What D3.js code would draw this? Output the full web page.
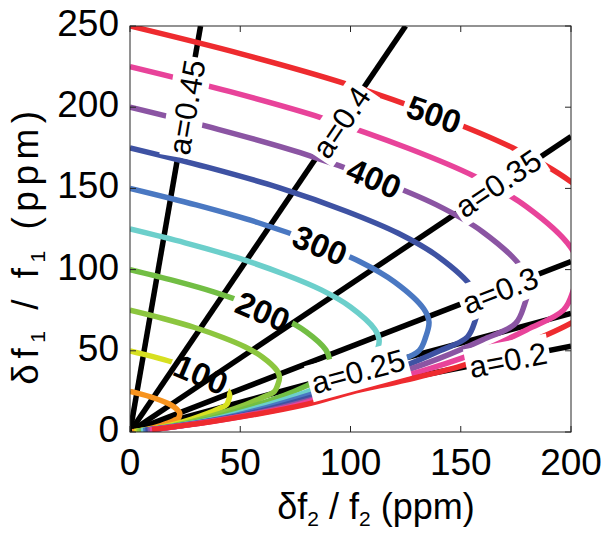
<!DOCTYPE html>
<html><head><meta charset="utf-8">
<script src="https://cdn.jsdelivr.net/npm/d3@7"></script>
<style>body{margin:0;background:#fff} svg{display:block}</style>
</head><body>
<svg id="c" width="603" height="534"></svg>
<script>
// ---------- data ----------
const xTicks = [0, 50, 100, 150, 200];
const yTicks = [0, 50, 100, 150, 200, 250];
const levels = [50, 100, 150, 200, 250, 300, 350, 400, 450, 500];
const levelColors = ["#F7931E", "#D7E021", "#8CC63F", "#72BE44", "#6CCFCB", "#4A78C2", "#3E52A3", "#8B55A3", "#E8439A", "#EE2B2F"];

const c50  = [[0,25],[5,23.3],[9.65,21.5],[14.05,19.4],[17.35,17.5],[20,15.4],[22.2,12.65],[22.6,11.3],[22.35,9.75],[21.85,8.35],[20,7.1],[17.5,5.65],[14,4],[8,1.7],[4,0.7],[1,0.15]];
const c100 = [[0,50],[10,46.6],[19.3,43],[28.1,38.8],[34.7,35],[40,30.8],[44.4,25.3],[45.2,22.6],[44.7,19.5],[43.7,16.7],[40,14.2],[35,11.3],[28,8],[16,3.4],[8,1.4],[2,0.3]];
const c150 = [[0,75],[15,69.9],[28.95,64.5],[42.15,58.2],[52.05,52.5],[60,46.2],[66.6,37.95],[67.8,33.9],[67.05,29.25],[65.55,25.05],[60,21.3],[52.5,16.95],[42,12],[24,5.1],[12,2.1],[3,0.45]];
const c200 = [[0,100],[20,93.2],[38.6,86],[56.2,77.6],[69.4,70],[80,61.6],[88.8,50.6],[90.4,45.2],[89.4,39],[87.4,33.4],[80,28.4],[70,22.6],[56,16],[32,6.8],[16,2.8],[4,0.6]];
const c250 = [[0,125],[25,116.5],[48.25,107.5],[70.25,97],[86.75,87.5],[100,77],[111,63.25],[113,56.5],[111.75,48.75],[109.25,41.75],[100,35.5],[87.5,28.25],[70,20],[40,8.5],[20,3.5],[5,0.75]];
const c300 = [[0,150],[30,139.8],[57.9,129],[84.3,116.4],[104.1,105],[120,92.4],[133.2,75.9],[135.6,67.8],[134.1,58.5],[131.1,50.1],[120,42.6],[105,33.9],[84,24],[48,10.2],[24,4.2],[6,0.9]];
const c350 = [[0,175],[35,163.1],[67.55,150.5],[98.35,135.8],[121.45,122.5],[140,107.8],[155.4,88.55],[158.2,79.1],[156.45,68.25],[152.95,58.45],[140,49.7],[122.5,39.55],[98,28],[56,11.9],[28,4.9],[7,1.05]];
const c400 = [[0,200],[40,186.4],[77.2,172],[112.4,155.2],[138.8,140],[160,123.2],[177.6,101.2],[180.8,90.4],[178.8,78],[174.8,66.8],[160,56.8],[140,45.2],[112,32],[64,13.6],[32,5.6],[8,1.2]];
const c450 = [[0,225],[45,209.7],[86.85,193.5],[126.45,174.6],[156.15,157.5],[180,138.6],[199.8,113.85],[203.4,101.7],[201.15,87.75],[196.65,75.15],[180,63],[157.5,49],[126,35],[100,26.5],[72,15.3],[36,6.3],[9,1.35]];
const c500 = [[0,250],[50,233],[96.5,215],[140.5,194],[173.5,175],[200,154],[222,126.5],[226,113],[223.5,97.5],[218.5,83.5],[200,67],[175,52],[150,40.5],[125,32],[100,24.5],[80,17],[40,7],[10,1.5]];
const contourData = [c50, c100, c150, c200, c250, c300, c350, c400, c450, c500];

const contourLabels = ["100", "200", "300", "400", "500"];
const contourLabelPos = [[32.2,35.6],[60.3,74.3],[86.2,115.1],[110.7,156.3],[137.9,195.7]];

const aLabels = ["a=0.2", "a=0.25", "a=0.3", "a=0.35", "a=0.4", "a=0.45"];
const aEnds = [[200,52.8],[200,73],[200,105],[200,182],[125,250],[32,250]];
const aLabelPos = [[171.4,44.5],[103.4,37.5],[167.8,87.4],[166.9,153.2],[95.7,190.8],[25.6,200]];

const xTitle = ["δf", "2", " / f", "2", " (ppm)"];
const yTitle = ["δf", "1", " / f", "1", " (ppm)"];

// ---------- drawing ----------
const FONT = "'Liberation Sans', Arial, Helvetica, sans-serif";
const svg = d3.select("#c");
const x = d3.scaleLinear().domain([0, 200]).range([130, 571]);
const y = d3.scaleLinear().domain([0, 250]).range([432, 26]);
const defs = svg.append("defs");
defs.append("clipPath").attr("id", "clip").append("rect")
  .attr("x", x(0)).attr("y", y(250)).attr("width", x(200) - x(0)).attr("height", y(0) - y(250));

const line = d3.line().x(d => x(d[0])).y(d => y(d[1]));
const smooth = d3.line().x(d => x(d[0])).y(d => y(d[1])).curve(d3.curveCatmullRom.alpha(0.5));

const plot = svg.append("g").attr("clip-path", "url(#clip)");

// a-lines (rays from origin)
aEnds.forEach(e => {
  plot.append("path").attr("d", line([[0, 0], e]))
    .attr("fill", "none").attr("stroke", "#000").attr("stroke-width", 5.5);
});

function measure(txt, size, weight) {
  const t = svg.append("text").attr("font-family", FONT).attr("font-size", size)
    .attr("font-weight", weight).text(txt);
  const w = t.node().getComputedTextLength();
  t.remove();
  return w;
}

// contour label geometry (angle from the curve itself)
const CL_SIZE = 33;
const clGeom = contourLabels.map((lab, i) => {
  const idx = levels.indexOf(+lab);
  const pts = contourData[idx].map(d => [x(d[0]), y(d[1])]);
  const px = x(contourLabelPos[i][0]), py = y(contourLabelPos[i][1]);
  let best = 0, bd = 1e9;
  for (let k = 0; k < pts.length - 1; k++) {
    const mx = (pts[k][0] + pts[k+1][0]) / 2, my = (pts[k][1] + pts[k+1][1]) / 2;
    const dd = (mx - px) ** 2 + (my - py) ** 2;
    if (dd < bd) { bd = dd; best = k; }
  }
  let ang = Math.atan2(pts[best+1][1] - pts[best][1], pts[best+1][0] - pts[best][0]) * 180 / Math.PI;
  if (ang > 90) ang -= 180; if (ang < -90) ang += 180;
  const w = measure(lab, CL_SIZE, "bold");
  return {idx, px, py, ang, w};
});

// masks for gaps in labelled contours
clGeom.forEach(g => {
  const m = defs.append("mask").attr("id", "m" + g.idx).attr("maskUnits", "userSpaceOnUse")
    .attr("x", 0).attr("y", 0).attr("width", 603).attr("height", 534);
  m.append("rect").attr("x", 0).attr("y", 0).attr("width", 603).attr("height", 534).attr("fill", "#fff");
  m.append("rect").attr("x", -g.w / 2 - 4).attr("y", -20).attr("width", g.w + 8).attr("height", 40)
    .attr("fill", "#000").attr("transform", `translate(${g.px},${g.py}) rotate(${g.ang})`);
});

// contours
contourData.forEach((d, i) => {
  const p = plot.append("path").attr("d", smooth(d)).attr("fill", "none")
    .attr("stroke", levelColors[i]).attr("stroke-width", 5.5).attr("stroke-linejoin", "round");
  if (clGeom.some(g => g.idx === i)) p.attr("mask", `url(#m${i})`);
});

// a-labels with white boxes
const AL_SIZE = 31;
aLabels.forEach((lab, i) => {
  const e = aEnds[i];
  const ang = Math.atan2(y(e[1]) - y(0), x(e[0]) - x(0)) * 180 / Math.PI;
  const g = svg.append("g").attr("transform", `translate(${x(aLabelPos[i][0])},${y(aLabelPos[i][1])}) rotate(${ang})`);
  const w = measure(lab, AL_SIZE, "normal");
  g.append("rect").attr("x", -w / 2 - 3).attr("y", -0.6 * AL_SIZE).attr("width", w + 6).attr("height", 1.2 * AL_SIZE).attr("fill", "#fff");
  g.append("text").attr("text-anchor", "middle").attr("dy", "0.36em")
    .attr("font-family", FONT).attr("font-size", AL_SIZE).attr("fill", "#000").text(lab);
});

// contour labels
clGeom.forEach((g, i) => {
  svg.append("text").attr("transform", `translate(${g.px},${g.py}) rotate(${g.ang})`)
    .attr("text-anchor", "middle").attr("dy", "0.36em")
    .attr("font-family", FONT).attr("font-size", CL_SIZE).attr("font-weight", "bold")
    .attr("fill", "#000").text(contourLabels[i]);
});

// frame and ticks
const axisColor = "#262626";
svg.append("rect").attr("x", x(0)).attr("y", y(250)).attr("width", x(200) - x(0)).attr("height", y(0) - y(250))
  .attr("fill", "none").attr("stroke", axisColor).attr("stroke-width", 1);
const tl = 6;
xTicks.forEach(t => {
  svg.append("line").attr("x1", x(t)).attr("x2", x(t)).attr("y1", y(0)).attr("y2", y(0) - tl).attr("stroke", axisColor);
  svg.append("line").attr("x1", x(t)).attr("x2", x(t)).attr("y1", y(250)).attr("y2", y(250) + tl).attr("stroke", axisColor);
  svg.append("text").attr("x", x(t)).attr("y", y(0) + 43).attr("text-anchor", "middle")
    .attr("font-family", FONT).attr("font-size", 37).text(t);
});
yTicks.forEach(t => {
  svg.append("line").attr("x1", x(0)).attr("x2", x(0) + tl).attr("y1", y(t)).attr("y2", y(t)).attr("stroke", axisColor);
  svg.append("line").attr("x1", x(200)).attr("x2", x(200) - tl).attr("y1", y(t)).attr("y2", y(t)).attr("stroke", axisColor);
  svg.append("text").attr("x", x(0) - 11).attr("y", y(t) + 10).attr("text-anchor", "end")
    .attr("font-family", FONT).attr("font-size", 37).text(t);
});

// axis titles
function title(parts, tx, ty, rot, size, spacing) {
  const t = svg.append("text").attr("transform", `translate(${tx},${ty}) rotate(${rot})`)
    .attr("text-anchor", "middle").attr("font-family", FONT).attr("font-size", size)
    .attr("letter-spacing", spacing);
  parts.forEach((p, i) => {
    const s = t.append("tspan").text(p);
    if (i % 2 === 1) s.attr("font-size", 21).attr("dy", 7);
    else if (i > 0) s.attr("dy", -7);
  });
}
title(xTitle, 376, 519, 0, 36, 0);
title(yTitle, 38, 245, -90, 37, 5.5);
</script>
</body></html>
